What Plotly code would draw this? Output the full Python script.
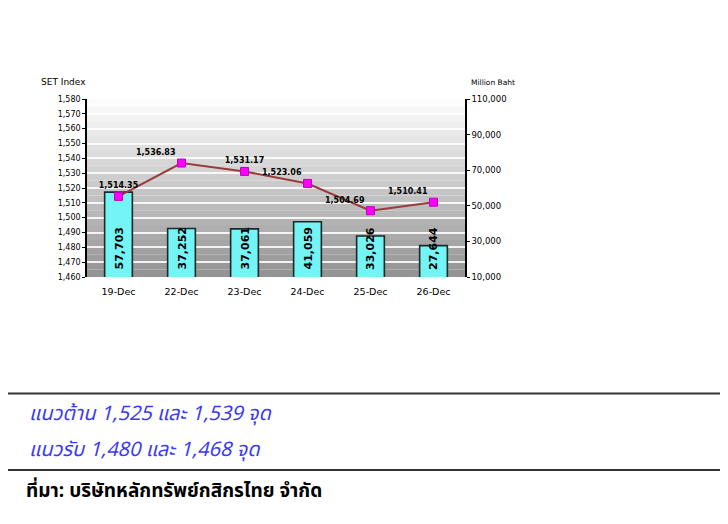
import plotly.graph_objects as go

categories = ["19-Dec", "22-Dec", "23-Dec", "24-Dec", "25-Dec", "26-Dec"]
set_index = [1514.35, 1536.83, 1531.17, 1523.06, 1504.69, 1510.41]
set_labels = ["1,514.35", "1,536.83", "1,531.17", "1,523.06", "1,504.69", "1,510.41"]
value_mb = [57703, 37252, 37061, 41059, 33026, 27644]
value_labels = ["57,703", "37,252", "37,061", "41,059", "33,026", "27,644"]
left_ticks = list(range(1460, 1581, 10))
right_ticks = list(range(10000, 110001, 20000))

FONT = "DejaVu Sans"
THAI = "Noto Sans Thai, Tahoma, Leelawadee UI, DejaVu Sans, sans-serif"

OFF = 8  # page body margin
W, H = 728 - OFF, 524 - OFF
# target page pixels of plot area
pl, pr, pt, pb = 87 - OFF, 465 - OFF, 99 - OFF, 277 - OFF


def px(pix):
    return (pix - OFF - pl) / (pr - pl)


def py(pix):
    return (pb - (pix - OFF)) / (pb - pt)


fig = go.Figure()

fig.add_trace(go.Bar(
    x=categories, y=value_mb, yaxis="y",
    marker=dict(color="#74F4F4", line=dict(color="#1a2a2a", width=1.6)),
    width=0.44,
    showlegend=False, hoverinfo="skip",
))

fig.add_trace(go.Scatter(
    x=categories, y=set_index, yaxis="y2",
    mode="lines+markers+text",
    line=dict(color="#9B3A3A", width=2),
    marker=dict(symbol="square", size=8, color="#FF00FF", line=dict(color="#C000C0", width=1)),
    text=set_labels,
    textposition=["top center", "top left", "top center", "top left", "top left", "top left"],
    textfont=dict(family=FONT, size=8, color="black", weight="bold"),
    cliponaxis=False,
    showlegend=False, hoverinfo="skip",
))

# background gradient bands (styling only)
lo, hi = left_ticks[0], left_ticks[-1]
nb = 24
step = (hi - lo) / nb
shapes = []
for i in range(nb):
    t = i / (nb - 1)  # 0 bottom -> 1 top
    g = int(148 + (252 - 148) * t)
    shapes.append(dict(type="rect", xref="paper", yref="y2", x0=0, x1=1,
                       y0=lo + i * step, y1=lo + (i + 1) * step,
                       fillcolor=f"rgb({g},{g},{g})", line=dict(width=0), layer="below"))

for pix in [393.5, 470]:
    shapes.append(dict(type="line", xref="paper", yref="paper",
                       x0=px(0), x1=px(740), y0=py(pix), y1=py(pix),
                       line=dict(color="#333333", width=2)))

# vertical value labels sitting at the base of each bar
annotations = [
    dict(text=f"<b>{lab}</b>", x=cat, y=right_ticks[0], xref="x", yref="y",
         textangle=-90, xanchor="center", yanchor="bottom", yshift=5,
         showarrow=False, font=dict(family=FONT, size=11, color="black"))
    for cat, lab in zip(categories, value_labels)
]

annotations += [
    dict(text="SET Index", xref="paper", yref="paper", x=px(39), y=py(82),
         xanchor="left", yanchor="middle", showarrow=False,
         font=dict(family=FONT, size=9, color="black")),
    dict(text="Million Baht", xref="paper", yref="paper", x=px(469), y=py(82),
         xanchor="left", yanchor="middle", showarrow=False,
         font=dict(family=FONT, size=7.5, color="black")),
    dict(text="<i>แนวต้าน 1,525 และ 1,539 จุด</i>", xref="paper", yref="paper",
         x=px(27), y=py(414), xanchor="left", yanchor="middle", showarrow=False,
         font=dict(family=THAI, size=20, color="#3B3BF5")),
    dict(text="<i>แนวรับ 1,480 และ 1,468 จุด</i>", xref="paper", yref="paper",
         x=px(27), y=py(450), xanchor="left", yanchor="middle", showarrow=False,
         font=dict(family=THAI, size=20, color="#3B3BF5")),
    dict(text="<b>ที่มา: บริษัทหลักทรัพย์กสิกรไทย จำกัด</b>", xref="paper", yref="paper",
         x=px(24), y=py(491), xanchor="left", yanchor="middle", showarrow=False,
         font=dict(family=THAI, size=19, color="black")),
]

fig.update_layout(
    width=W, height=H,
    margin=dict(l=pl, r=W - pr, t=pt, b=H - pb),
    paper_bgcolor="white", plot_bgcolor="white",
    xaxis=dict(type="category", showgrid=False, showline=False,
               ticks="outside", ticklen=6, tickcolor="rgba(0,0,0,0)",
               tickfont=dict(family=FONT, size=9.5, color="black")),
    yaxis=dict(range=[right_ticks[0], right_ticks[-1]], tickvals=right_ticks,
               ticktext=[f"{v:,}" for v in right_ticks],
               side="right", showgrid=False, zeroline=False,
               showline=True, linecolor="black", linewidth=1.5,
               ticks="outside", ticklen=3, tickcolor="black",
               tickfont=dict(family=FONT, size=8.5, color="black")),
    yaxis2=dict(range=[lo, hi], tickvals=left_ticks,
                ticktext=[f"{v:,}" for v in left_ticks],
                side="left", overlaying="y", zeroline=False,
                showgrid=True, gridcolor="rgba(255,255,255,0.85)", gridwidth=1.5,
                showline=True, linecolor="black", linewidth=1.5,
                ticks="outside", ticklen=3, tickcolor="black",
                tickfont=dict(family=FONT, size=8, color="black")),
    shapes=shapes,
    annotations=annotations,
)

fig.write_html("out.html")
